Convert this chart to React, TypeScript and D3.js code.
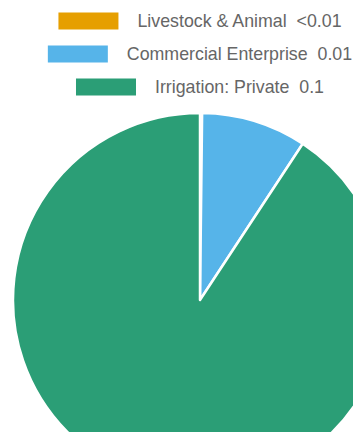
import React, { useEffect, useRef } from "react";
import * as d3 from "d3";

const categories = ["Livestock & Animal", "Commercial Enterprise", "Irrigation: Private"];
const values = [0.0002, 0.01, 0.1];
const valueLabels = ["<0.01", "0.01", "0.1"];
const colors = ["#E69F00", "#56B4E9", "#2B9E76"];

export default function App() {
  const ref = useRef<SVGSVGElement>(null);
  useEffect(() => {
    const svg = d3.select(ref.current);
    svg.selectAll("*").remove();
    const cx = 200, cy = 300, r = 187;

    const pie = d3.pie<number>().sort(null).value((d) => d);
    const arcs = pie(values);
    const arc = d3.arc<d3.PieArcDatum<number>>().innerRadius(0).outerRadius(r);
    svg
      .append("g")
      .attr("transform", `translate(${cx},${cy})`)
      .selectAll("path")
      .data(arcs)
      .join("path")
      .attr("d", arc)
      .attr("fill", (_, i) => colors[i])
      .attr("stroke", "#ffffff")
      .attr("stroke-width", 2.5)
      .attr("stroke-linejoin", "round");

    const rowY = [21, 54, 87];
    const swW = 60, swH = 17, gap = 19;
    const legend = svg.append("g");
    categories.forEach((c, i) => {
      const g = legend.append("g");
      const t = g
        .append("text")
        .attr("y", rowY[i])
        .attr("dy", "0.35em")
        .attr("font-family", "Liberation Sans, Arial, sans-serif")
        .attr("font-size", 17.8)
        .attr("fill", "#666666")
        .style("white-space", "pre")
        .text(`${c}  ${valueLabels[i]}`);
      const tw = (t.node() as SVGTextElement).getComputedTextLength();
      const total = swW + gap + tw;
      const x0 = 200 - total / 2;
      g.insert("rect", "text")
        .attr("x", x0)
        .attr("y", rowY[i] - swH / 2)
        .attr("width", swW)
        .attr("height", swH)
        .attr("fill", colors[i]);
      t.attr("x", x0 + swW + gap);
    });
  }, []);
  return (
    <svg
      ref={ref}
      width={353}
      height={432}
      style={{ position: "absolute", left: 0, top: 0, background: "#ffffff" }}
    />
  );
}
